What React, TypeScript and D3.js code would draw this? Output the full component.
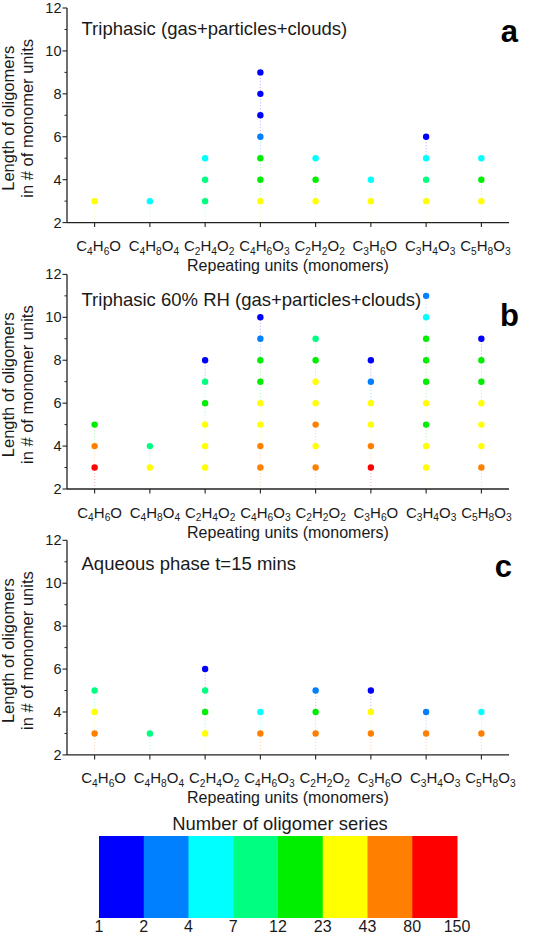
import React from "react";
import * as d3 from "d3";

const categories = ["C4H6O", "C4H8O4", "C2H4O2", "C4H6O3", "C2H2O2", "C3H6O", "C3H4O3", "C5H8O3"];
const yTicks = [2, 4, 6, 8, 10, 12];
const binLabels = ["1", "2", "4", "7", "12", "23", "43", "80", "150"];
const binColors = ["#0000ff", "#0080ff", "#00ffff", "#00ff80", "#00ee00", "#ffff00", "#ff8000", "#ff0000"];

// colour-bin index for oligomer lengths 3, 4, 5, ... per category
const panelA: number[][] = [
  [5],
  [2],
  [3, 3, 2],
  [5, 4, 4, 1, 0, 0, 0],
  [5, 4, 2],
  [5, 2],
  [5, 3, 2, 0],
  [5, 4, 2],
];
const panelB: number[][] = [
  [7, 6, 4],
  [5, 3],
  [5, 5, 5, 4, 3, 0],
  [6, 6, 5, 5, 4, 4, 1, 0],
  [6, 5, 6, 5, 5, 4, 3],
  [7, 6, 5, 5, 1, 0],
  [5, 5, 4, 5, 4, 4, 4, 2, 1],
  [6, 5, 5, 5, 4, 4, 0],
];
const panelC: number[][] = [
  [6, 5, 3],
  [3],
  [5, 4, 3, 0],
  [6, 2],
  [6, 4, 1],
  [6, 5, 0],
  [6, 1],
  [6, 2],
];
const titles = ["Triphasic (gas+particles+clouds)", "Triphasic 60% RH (gas+particles+clouds)", "Aqueous phase t=15 mins"];
const letters = ["a", "b", "c"];

const FONT = "'Liberation Sans', Arial, Helvetica, sans-serif";
const TXT = "#1a1a1a";

function Formula({ s, x, y, size }: { s: string; x: number; y: number; size: number }) {
  const parts: { t: string; sub: boolean }[] = [];
  for (const ch of s) {
    const sub = /[0-9]/.test(ch);
    const last = parts[parts.length - 1];
    if (last && last.sub === sub) last.t += ch;
    else parts.push({ t: ch, sub });
  }
  let prevSub = false;
  return (
    <text x={x} y={y} textAnchor="middle" fontFamily={FONT} fontSize={size} fill={TXT}>
      {parts.map((p, i) => {
        const dy = p.sub && !prevSub ? 3.5 : !p.sub && prevSub ? -3.5 : 0;
        prevSub = p.sub;
        return (
          <tspan key={i} dy={dy} fontSize={p.sub ? size * 0.68 : size}>
            {p.t}
          </tspan>
        );
      })}
    </text>
  );
}

const left = 67;
const right = 509;
const panelTops = [8, 274.4, 540.3];
const plotH = 214.6;
const titleDy = [27, 32, 30];
const letterDy = [34, 52, 37];
const letterX = [518, 519, 512];
const labelDx = [4, 5, 9];

function Panel({ idx, data }: { idx: number; data: number[][] }) {
  const top = panelTops[idx];
  const bottom = top + plotH;
  const y = d3.scaleLinear().domain([2, 12]).range([bottom, top]);
  const x = d3.scaleBand<string>().domain(categories).range([left, right]);
  const cx = (c: string) => (x(c) ?? 0) + x.bandwidth() / 2;
  const minor = d3.range(3, 12, 2);
  return (
    <g>
      {/* dotted stems */}
      {data.map((col, ci) =>
        col.map((b, k) => {
          const yv = 3 + k;
          const y0 = k === 0 ? bottom : y(yv - 1);
          return (
            <line
              key={`s${ci}-${k}`}
              x1={cx(categories[ci])}
              x2={cx(categories[ci])}
              y1={y0}
              y2={y(yv)}
              stroke={binColors[b]}
              strokeOpacity={0.32}
              strokeWidth={1}
              strokeDasharray="1,2"
            />
          );
        })
      )}
      {/* axes */}
      <line x1={left} x2={right} y1={bottom} y2={bottom} stroke="#222" strokeWidth={1.3} />
      <line x1={left} x2={left} y1={top} y2={bottom} stroke="#222" strokeWidth={1.3} />
      {yTicks.map((t) => (
        <g key={t}>
          <line x1={left - 4.5} x2={left} y1={y(t)} y2={y(t)} stroke="#222" strokeWidth={1.1} />
          <text x={left - 5.5} y={y(t) + 5} textAnchor="end" fontFamily={FONT} fontSize={14.5} fill={TXT}>
            {t}
          </text>
        </g>
      ))}
      {minor.map((t) => (
        <line key={`m${t}`} x1={left - 2.5} x2={left} y1={y(t)} y2={y(t)} stroke="#222" strokeWidth={1} />
      ))}
      {categories.map((c) => (
        <g key={c}>
          <line x1={cx(c)} x2={cx(c)} y1={bottom} y2={bottom + 4.5} stroke="#222" strokeWidth={1.1} />
          <Formula s={c} x={cx(c) + labelDx[idx]} y={bottom + 28.5} size={15} />
        </g>
      ))}
      {/* dots */}
      {data.map((col, ci) =>
        col.map((b, k) => (
          <circle key={`d${ci}-${k}`} cx={cx(categories[ci])} cy={y(3 + k)} r={3.2} fill={binColors[b]} />
        ))
      )}
      <text x={288} y={bottom + 48.5} textAnchor="middle" fontFamily={FONT} fontSize={16} fill={TXT}>
        Repeating units (monomers)
      </text>
      <g transform={`translate(0, ${top + plotH / 2 + 3}) rotate(-90)`}>
        <text x={0} y={13.5} textAnchor="middle" fontFamily={FONT} fontSize={16.5} fill={TXT}>
          Length of oligomers
        </text>
        <text x={0} y={33} textAnchor="middle" fontFamily={FONT} fontSize={16.5} fill={TXT}>
          in # of monomer units
        </text>
      </g>
      <text x={81.5} y={top + titleDy[idx]} fontFamily={FONT} fontSize={18.5} fill={TXT}>
        {titles[idx]}
      </text>
      <text x={letterX[idx]} y={top + letterDy[idx]} textAnchor="end" fontFamily={FONT} fontSize={31} fontWeight="bold" fill="#000">
        {letters[idx]}
      </text>
    </g>
  );
}

function ColorBar() {
  const cb = d3.scaleLinear().domain([0, binColors.length]).range([99, 457]);
  const yTop = 836;
  const yBot = 918;
  return (
    <g>
      <text x={280} y={830} textAnchor="middle" fontFamily={FONT} fontSize={18.4} fill={TXT}>
        Number of oligomer series
      </text>
      {binColors.map((c, i) => (
        <rect key={i} x={cb(i)} y={yTop} width={cb(i + 1) - cb(i) + 0.5} height={yBot - yTop} fill={c} />
      ))}
      {binLabels.map((l, i) => (
        <text key={l} x={cb(i)} y={932} textAnchor="middle" fontFamily={FONT} fontSize={16} fill={TXT}>
          {l}
        </text>
      ))}
    </g>
  );
}

export default function App() {
  return (
    <svg
      width={556}
      height={934}
      viewBox="0 0 556 934"
      style={{ position: "absolute", left: 0, top: 0, background: "#fff" }}
    >
      <rect x={0} y={0} width={556} height={934} fill="#fff" />
      <Panel idx={0} data={panelA} />
      <Panel idx={1} data={panelB} />
      <Panel idx={2} data={panelC} />
      <ColorBar />
    </svg>
  );
}
